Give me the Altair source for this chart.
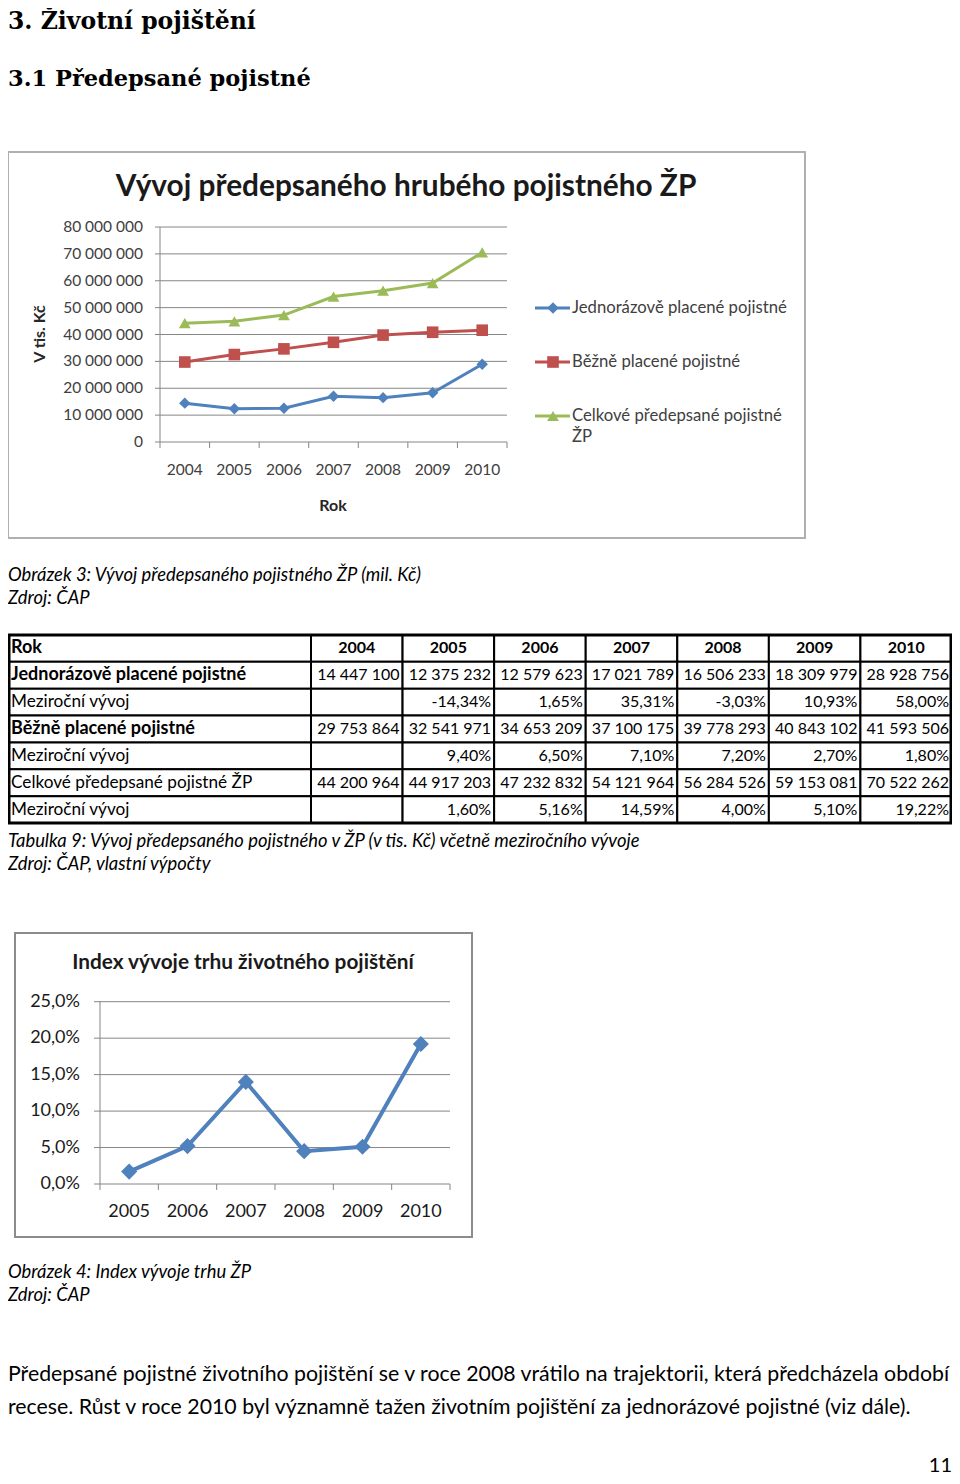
import altair as alt
import pandas as pd

# ---------------- data ----------------
years = ["2004", "2005", "2006", "2007", "2008", "2009", "2010"]
jednorazove = [14447100, 12375232, 12579623, 17021789, 16506233, 18309979, 28928756]
bezne = [29753864, 32541971, 34653209, 37100175, 39778293, 40843102, 41593506]
celkove = [44200964, 44917203, 47232832, 54121964, 56284526, 59153081, 70522262]
mezi_jedn = [None, -14.34, 1.65, 35.31, -3.03, 10.93, 58.00]
mezi_bezne = [None, 9.40, 6.50, 7.10, 7.20, 2.70, 1.80]
mezi_celk = [None, 1.60, 5.16, 14.59, 4.00, 5.10, 19.22]

series_names = ["Jednorázově placené pojistné", "Běžně placené pojistné",
                "Celkové předepsané pojistné ŽP"]
legend_labels = ["Jednorázově placené pojistné", "Běžně placené pojistné",
                 "Celkové předepsané pojistné\nŽP"]
series_colors = ["#4F81BD", "#C0504D", "#9BBB59"]
series_shapes = ["diamond", "square", "triangle-up"]
y_ticks_1 = [0, 10000000, 20000000, 30000000, 40000000, 50000000, 60000000, 70000000, 80000000]

index_years = ["2005", "2006", "2007", "2008", "2009", "2010"]
index_values = [1.7, 5.2, 14.0, 4.5, 5.1, 19.2]
y_ticks_2 = [0, 5, 10, 15, 20, 25]

table_row_labels = ["Rok", "Jednorázově placené pojistné", "Meziroční vývoj",
                    "Běžně placené pojistné", "Meziroční vývoj",
                    "Celkové předepsané pojistné ŽP", "Meziroční vývoj"]
table_row_bold = [True, True, False, True, False, False, False]

heading_1 = "3. Životní pojištění"
heading_2 = "3.1 Předepsané pojistné"
chart1_title = "Vývoj předepsaného hrubého pojistného ŽP"
chart1_y_title = "V tis. Kč"
chart1_x_title = "Rok"
caption_1 = ["Obrázek 3: Vývoj předepsaného pojistného ŽP (mil. Kč)", "Zdroj: ČAP"]
caption_2 = ["Tabulka 9: Vývoj předepsaného pojistného v ŽP (v tis. Kč) včetně meziročního vývoje",
             "Zdroj: ČAP, vlastní výpočty"]
chart2_title = "Index vývoje trhu životného pojištění"
caption_3 = ["Obrázek 4: Index vývoje trhu ŽP", "Zdroj: ČAP"]
paragraph = ["Předepsané pojistné životního pojištění se v roce 2008 vrátilo na trajektorii, která předcházela období",
             "recese. Růst v roce 2010 byl významně tažen životním pojištění za jednorázové pojistné (viz dále)."]
page_number = "11"

# ---------------- helpers ----------------
SANS = "Lato"
SERIF = "DejaVu Serif"
W, H = 944, 1468
CAP = 18.4


def fmt_int(v):
    return f"{v:,}".replace(",", " ")


def fmt_pct(v, d=2):
    if v is None:
        return ""
    return f"{v:.{d}f}".replace(".", ",") + "%"


def txt(line, x, y, size, font=SANS, weight="normal", style="normal",
        align="left", color="black", angle=0, baseline="middle"):
    return alt.Chart(pd.DataFrame({"t": [line]})).mark_text(
        align=align, baseline=baseline, font=font, fontSize=size,
        fontWeight=weight, fontStyle=style, color=color, angle=angle).encode(
        text="t:N", x=alt.value(x), y=alt.value(y))


def frame(x0, x1, y0, y1, color, width):
    return alt.Chart(pd.DataFrame({"a": [0]})).mark_rect(
        fill="white", fillOpacity=0, stroke=color, strokeWidth=width).encode(
        x=alt.value(x0), x2=alt.value(x1), y=alt.value(y0), y2=alt.value(y1))


layers = []

# ---------------- headings ----------------
layers.append(txt(heading_1, 0, 21, 23.5, font=SERIF, weight="bold", baseline="alphabetic"))
layers.append(txt(heading_2, 0, 78, 22.5, font=SERIF, weight="bold", baseline="alphabetic"))

# ---------------- chart 1 ----------------
GRID = "#868686"
LAB = "#404040"
c1x0, c1x1, c1y0, c1y1 = 152, 499, 434, 219
layers.append(frame(0, 797, 144, 530, "#b0b0b0", 2))
layers.append(txt(chart1_title, 398, 179, 29.8, weight="bold", align="center", color="#1a1a1a"))

y1 = alt.Scale(domain=[0, 80000000], range=[c1y0, c1y1])
xb1 = alt.Scale(type="point", domain=years, range=[c1x0, c1x1], padding=0.5)
df_t1 = pd.DataFrame({"v": y_ticks_1, "lab": [fmt_int(v) for v in y_ticks_1]})
layers.append(alt.Chart(df_t1).mark_rule(color=GRID, strokeWidth=1).encode(
    y=alt.Y("v:Q", scale=y1, axis=None), x=alt.value(c1x0 - 5), x2=alt.value(c1x1)))
layers.append(alt.Chart(pd.DataFrame({"a": [0]})).mark_rule(color=GRID, strokeWidth=1).encode(
    x=alt.value(c1x0), y=alt.value(c1y1), y2=alt.value(c1y0)))
df_b1 = pd.DataFrame({"i": list(range(len(years) + 1))})
layers.append(alt.Chart(df_b1).mark_rule(color=GRID, strokeWidth=1).encode(
    x=alt.X("i:Q", scale=alt.Scale(domain=[0, len(years)], range=[c1x0, c1x1]), axis=None),
    y=alt.value(c1y0), y2=alt.value(c1y0 + 6)))
layers.append(alt.Chart(df_t1).mark_text(align="right", baseline="middle", font=SANS,
                                         fontSize=15.5, color=LAB).encode(
    y=alt.Y("v:Q", scale=y1, axis=None), x=alt.value(135), text="lab:N"))
layers.append(alt.Chart(pd.DataFrame({"year": years})).mark_text(
    align="center", baseline="middle", font=SANS, fontSize=15.5, color=LAB).encode(
    x=alt.X("year:O", scale=xb1, axis=None), y=alt.value(462), text="year:N"))
layers.append(txt(chart1_x_title, 325, 498, 16, weight="bold", align="center", color="#262626"))
layers.append(txt(chart1_y_title, 32, 326, 16, weight="bold", align="center", angle=270, color="#262626"))

rows = []
for name, vals in zip(series_names, [jednorazove, bezne, celkove]):
    for yr, v in zip(years, vals):
        rows.append({"year": yr, "series": name, "value": v})
df1 = pd.DataFrame(rows)
color_s = alt.Color("series:N", scale=alt.Scale(domain=series_names, range=series_colors), legend=None)
shape_s = alt.Shape("series:N", scale=alt.Scale(domain=series_names, range=series_shapes), legend=None)
size_s = alt.Size("series:N", scale=alt.Scale(domain=series_names, range=[130, 140, 170]), legend=None)
layers.append(alt.Chart(df1).mark_line(strokeWidth=3).encode(
    x=alt.X("year:O", scale=xb1, axis=None), y=alt.Y("value:Q", scale=y1, axis=None),
    color=color_s, detail="series:N"))
layers.append(alt.Chart(df1).mark_point(filled=True, opacity=1).encode(
    x=alt.X("year:O", scale=xb1, axis=None), y=alt.Y("value:Q", scale=y1, axis=None),
    color=color_s, shape=shape_s, size=size_s))

# legend
df_leg = pd.DataFrame({"series": series_names, "label": legend_labels})
yl = alt.Scale(type="point", domain=series_names, range=[300, 408], padding=0)
layers.append(alt.Chart(df_leg).mark_rule(strokeWidth=3).encode(
    y=alt.Y("series:N", scale=yl, axis=None), x=alt.value(527), x2=alt.value(562), color=color_s))
layers.append(alt.Chart(df_leg).mark_point(filled=True, opacity=1).encode(
    y=alt.Y("series:N", scale=yl, axis=None), x=alt.value(545), color=color_s, shape=shape_s,
    size=alt.Size("series:N", scale=alt.Scale(domain=series_names, range=[90, 100, 120]), legend=None)))
layers.append(alt.Chart(df_leg).mark_text(align="left", baseline="middle", font=SANS, fontSize=16.7,
                                          color=LAB, lineBreak="\n", lineHeight=21).encode(
    y=alt.Y("series:N", scale=yl, axis=None), x=alt.value(564), text="label:N"))

# captions
layers.append(txt(caption_1[0], 0, 567, CAP, style="italic"))
layers.append(txt(caption_1[1], 0, 590, CAP, style="italic"))

# ---------------- table ----------------
TX0, TXL, TX1 = 0, 303, 944
TY0, TY1 = 627, 815
row_keys = [str(i) for i in range(len(table_row_labels))]
row_band = alt.Scale(type="band", domain=row_keys, range=[TY0, TY1], paddingInner=0, paddingOuter=0)
row_pt = alt.Scale(type="point", domain=row_keys, range=[TY0, TY1], padding=0.5)
col_band = alt.Scale(type="band", domain=years, range=[TXL, TX1], paddingInner=0, paddingOuter=0)
col_pt = alt.Scale(type="point", domain=years, range=[TXL, TX1], padding=0.5)
half_col = (TX1 - TXL) / len(years) / 2

df_lab = pd.DataFrame({"r": row_keys, "label": table_row_labels, "bold": table_row_bold})
layers.append(alt.Chart(df_lab).mark_rect(fill="white", stroke="black", strokeWidth=2).encode(
    y=alt.Y("r:O", scale=row_band, axis=None), x=alt.value(TX0), x2=alt.value(TXL)))

cells = []
row_values = [None, [fmt_int(v) for v in jednorazove], [fmt_pct(v) for v in mezi_jedn],
              [fmt_int(v) for v in bezne], [fmt_pct(v) for v in mezi_bezne],
              [fmt_int(v) for v in celkove], [fmt_pct(v) for v in mezi_celk]]
for ri, vals in enumerate(row_values):
    for ci, yr in enumerate(years):
        cells.append({"r": str(ri), "c": yr, "t": yr if ri == 0 else vals[ci]})
df_cells = pd.DataFrame(cells)
layers.append(alt.Chart(df_cells).mark_rect(fill="white", stroke="black", strokeWidth=2).encode(
    y=alt.Y("r:O", scale=row_band, axis=None), x=alt.X("c:O", scale=col_band, axis=None)))
layers.append(frame(TX0 + 1, TX1 - 1, TY0, TY1, "black", 3))

layers.append(alt.Chart(df_lab[df_lab["bold"]]).mark_text(
    align="left", baseline="middle", font=SANS, fontSize=18, fontWeight="bold").encode(
    y=alt.Y("r:O", scale=row_pt, axis=None), x=alt.value(TX0 + 3), text="label:N"))
layers.append(alt.Chart(df_lab[~df_lab["bold"]]).mark_text(
    align="left", baseline="middle", font=SANS, fontSize=17.2).encode(
    y=alt.Y("r:O", scale=row_pt, axis=None), x=alt.value(TX0 + 3), text="label:N"))
layers.append(alt.Chart(df_cells[df_cells["r"] == "0"]).mark_text(
    align="center", baseline="middle", font=SANS, fontSize=16, fontWeight="bold").encode(
    y=alt.Y("r:O", scale=row_pt, axis=None), x=alt.X("c:O", scale=col_pt, axis=None), text="t:N"))
layers.append(alt.Chart(df_cells[df_cells["r"] != "0"]).mark_text(
    align="right", baseline="middle", font=SANS, fontSize=16, dx=half_col - 3).encode(
    y=alt.Y("r:O", scale=row_pt, axis=None), x=alt.X("c:O", scale=col_pt, axis=None), text="t:N"))

layers.append(txt(caption_2[0], 0, 833, CAP, style="italic"))
layers.append(txt(caption_2[1], 0, 856, CAP, style="italic"))

# ---------------- chart 2 ----------------
c2x0, c2x1, c2y0, c2y1 = 92, 442, 1176, 993.7
layers.append(frame(7, 464, 925, 1229, "#8c8c8c", 2))
layers.append(txt(chart2_title, 235, 955, 20.8, weight="bold", align="center", color="#1a1a1a"))
y2 = alt.Scale(domain=[0, 25], range=[c2y0, c2y1])
xb2 = alt.Scale(type="point", domain=index_years, range=[c2x0, c2x1], padding=0.5)
df_t2 = pd.DataFrame({"v": y_ticks_2, "lab": [fmt_pct(v, 1) for v in y_ticks_2]})
layers.append(alt.Chart(df_t2).mark_rule(color=GRID, strokeWidth=1).encode(
    y=alt.Y("v:Q", scale=y2, axis=None), x=alt.value(c2x0 - 6), x2=alt.value(c2x1)))
layers.append(alt.Chart(pd.DataFrame({"a": [0]})).mark_rule(color=GRID, strokeWidth=1).encode(
    x=alt.value(c2x0), y=alt.value(c2y1), y2=alt.value(c2y0)))
df_b2 = pd.DataFrame({"i": list(range(len(index_years) + 1))})
layers.append(alt.Chart(df_b2).mark_rule(color=GRID, strokeWidth=1).encode(
    x=alt.X("i:Q", scale=alt.Scale(domain=[0, len(index_years)], range=[c2x0, c2x1]), axis=None),
    y=alt.value(c2y0), y2=alt.value(c2y0 + 6)))
layers.append(alt.Chart(df_t2).mark_text(align="right", baseline="middle", font=SANS,
                                         fontSize=18, color="#1a1a1a").encode(
    y=alt.Y("v:Q", scale=y2, axis=None), x=alt.value(72), text="lab:N"))
layers.append(alt.Chart(pd.DataFrame({"year": index_years})).mark_text(
    align="center", baseline="middle", font=SANS, fontSize=18, color="#1a1a1a").encode(
    x=alt.X("year:O", scale=xb2, axis=None), y=alt.value(1203.5), text="year:N"))
df2 = pd.DataFrame({"year": index_years, "value": index_values})
layers.append(alt.Chart(df2).mark_line(strokeWidth=4, color="#4F81BD").encode(
    x=alt.X("year:O", scale=xb2, axis=None), y=alt.Y("value:Q", scale=y2, axis=None)))
layers.append(alt.Chart(df2).mark_point(filled=True, opacity=1, shape="diamond", size=260,
                                        color="#4F81BD").encode(
    x=alt.X("year:O", scale=xb2, axis=None), y=alt.Y("value:Q", scale=y2, axis=None)))

layers.append(txt(caption_3[0], 0, 1264, CAP, style="italic"))
layers.append(txt(caption_3[1], 0, 1287, CAP, style="italic"))

# ---------------- paragraph ----------------
layers.append(txt(paragraph[0], 0, 1367, 21.3))
layers.append(txt(paragraph[1], 0, 1400, 21.3))
layers.append(txt(page_number, 944, 1458, 20, align="right"))

chart = alt.layer(*layers).resolve_scale(x="independent", y="independent").properties(
    width=W, height=H, padding=0, autosize=alt.AutoSizeParams(type="none"),
    background="white").configure_view(stroke=None)

chart.save("out.html", embed_options={"renderer": "svg", "actions": False})
